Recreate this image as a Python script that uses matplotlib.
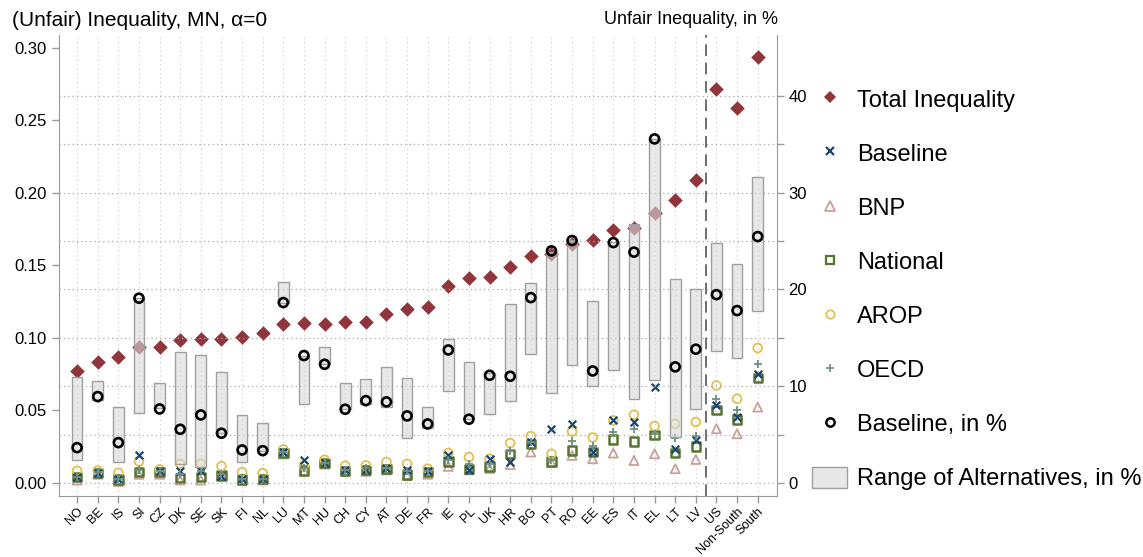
import matplotlib
matplotlib.use("Agg")
import matplotlib.pyplot as plt
from matplotlib.lines import Line2D
from matplotlib.patches import Patch
import numpy as np

plt.rcParams['font.family'] = ['Liberation Sans', 'DejaVu Sans']

# countries, sorted by total inequality; last three are US groups
countries = ["NO", "BE", "IS", "SI", "CZ", "DK", "SE", "SK", "FI", "NL", "LU",
             "MT", "HU", "CH", "CY", "AT", "DE", "FR", "IE", "PL", "UK", "HR",
             "BG", "PT", "RO", "EE", "ES", "IT", "EL", "LT", "LV",
             "US", "Non-South", "South"]

# left axis: inequality levels
total = [0.077, 0.0836, 0.0868, 0.0939, 0.0934, 0.0983, 0.0992, 0.0994, 0.1006,
         0.1036, 0.1095, 0.1102, 0.1095, 0.1109, 0.1107, 0.1167, 0.1197, 0.1215,
         0.136, 0.1416, 0.1422, 0.1489, 0.1564, 0.1581, 0.165, 0.1677, 0.1746,
         0.1757, 0.1861, 0.1953, 0.2086, 0.2712, 0.2585, 0.2937]
baseline = [0.004, 0.007, 0.003, 0.019, 0.008, 0.008, 0.008, 0.005, 0.003, 0.003,
            0.021, 0.0155, 0.014, 0.009, 0.009, 0.010, 0.0086, 0.008, 0.019,
            0.009, 0.0167, 0.0144, 0.028, 0.0374, 0.0408, 0.021, 0.0435, 0.042,
            0.066, 0.0236, 0.0293, 0.0534, 0.0454, 0.0753]
bnp = [0.002, 0.006, 0.001, 0.006, 0.006, 0.002, 0.002, 0.005, 0.002, 0.002,
       0.020, 0.008, 0.013, 0.008, 0.008, 0.009, 0.005, 0.006, 0.0114, 0.009,
       0.010, 0.0126, 0.0213, 0.014, 0.019, 0.0167, 0.0206, 0.0155, 0.0201,
       0.0098, 0.0162, 0.0374, 0.0339, 0.0523]
national = [0.004, 0.007, 0.0024, 0.0075, 0.0075, 0.0036, 0.004, 0.0052, 0.0024,
            0.0028, 0.0206, 0.0086, 0.0137, 0.0081, 0.0091, 0.0098, 0.0058,
            0.0075, 0.0148, 0.0098, 0.0114, 0.0201, 0.027, 0.0148, 0.0224,
            0.0213, 0.030, 0.0286, 0.0332, 0.0208, 0.0252, 0.0505, 0.0438, 0.0723]
arop = [0.0083, 0.0085, 0.007, 0.0148, 0.0093, 0.0132, 0.0132, 0.0116, 0.0075,
        0.0068, 0.0231, 0.012, 0.016, 0.0118, 0.012, 0.0144, 0.0132, 0.0098,
        0.0206, 0.0178, 0.0167, 0.0275, 0.0323, 0.0201, 0.0355, 0.0314, 0.0431,
        0.047, 0.0392, 0.0408, 0.042, 0.0672, 0.058, 0.093]
oecd = [0.004, 0.0075, 0.003, 0.009, 0.008, 0.006, 0.008, 0.006, 0.003, 0.003,
        0.021, 0.010, 0.014, 0.009, 0.010, 0.010, 0.008, 0.008, 0.016, 0.013,
        0.013, 0.022, 0.028, 0.016, 0.0286, 0.0252, 0.035, 0.0374, 0.034,
        0.0312, 0.0323, 0.058, 0.0505, 0.0817]

# right axis: unfair share in %
baseline_pct = [3.65, 8.93, 4.17, 19.1, 7.65, 5.55, 7.03, 5.14, 3.41, 3.34, 18.65,
                13.17, 12.27, 7.62, 8.51, 8.38, 6.93, 6.10, 13.75, 6.59, 11.13,
                11.03, 19.16, 23.99, 25.06, 11.58, 24.85, 23.86, 35.57, 12.0,
                13.83, 19.47, 17.82, 25.47]
range_lo = [2.35, 8.55, 2.14, 7.27, 7.75, 1.93, 1.65, 5.14, 2.2, 3.34, 18.65,
            8.14, 12.27, 7.62, 8.14, 7.86, 4.62, 5.65, 9.55, 6.59, 7.14, 8.51,
            13.34, 9.28, 12.17, 10.03, 11.65, 8.65, 10.65, 4.79, 7.62,
            13.68, 12.96, 17.79]
range_hi = [10.93, 10.52, 7.89, 19.1, 10.31, 13.51, 13.2, 11.48, 7.03, 6.17,
            20.82, 13.17, 14.03, 10.31, 10.72, 11.96, 10.83, 7.86, 14.92, 12.55,
            11.34, 18.54, 20.71, 23.92, 25.13, 18.85, 24.96, 26.75, 35.6, 21.06,
            20.06, 24.82, 22.65, 31.68]

c_total = "#90353b"
c_base = "#1a476f"
c_bnp = "#c9a09c"
c_nat = "#55752f"
c_arop = "#e2c04f"
c_oecd = "#6e8e84"
c_axis = "#999999"

x = np.arange(len(countries))

fig = plt.figure(figsize=(11.43, 5.57), dpi=100)
ax = fig.add_axes([0.0514, 0.1095, 0.6281, 0.8275])
ax2 = ax.twinx()

# grid lines
for xi in x:
    ax.axvline(xi, color="#c8c8c8", lw=0.8, ls=(0, (1, 3)), zorder=0)
for yv in range(0, 45, 5):
    ax2.axhline(yv, color="#aaaaaa", lw=0.9, ls=(0, (1, 2.5)), zorder=0)

ax.scatter(x, total, marker="D", s=55, color=c_total, zorder=3, linewidths=0)
ax.scatter(x, bnp, marker="^", s=42, facecolors="none", edgecolors=c_bnp,
           linewidths=1.3, zorder=3)
ax.scatter(x, national, marker="s", s=36, facecolors="none", edgecolors=c_nat,
           linewidths=1.8, zorder=4)
ax.scatter(x, arop, marker="o", s=40, facecolors="none", edgecolors=c_arop,
           linewidths=1.3, zorder=4)
ax.scatter(x, baseline, marker="x", s=30, color=c_base, linewidths=1.6, zorder=5)
ax.scatter(x, oecd, marker="+", s=40, color=c_oecd, linewidths=1.3, zorder=5)

# range of alternatives and baseline share
lo = np.array(range_lo)
hi = np.array(range_hi)
ax2.bar(x, hi - lo, bottom=lo, width=0.52, color=(0.85, 0.85, 0.85, 0.6),
        edgecolor="#a0a0a0", linewidth=1.0, zorder=2)
ax2.scatter(x, baseline_pct, marker="o", s=42, facecolors="none",
            edgecolors="black", linewidths=1.9, zorder=3)

ax.axvline(30.5, color="#555555", lw=1.2, ls=(0, (7, 4)), zorder=1)

ax.set_xlim(-0.89, 33.92)
ax.set_ylim(-0.009, 0.3087)
ax2.set_ylim(-1.35, 46.3)

ax.set_yticks(np.arange(0, 0.301, 0.05))
ax.set_yticklabels(["%.2f" % v for v in np.arange(0, 0.301, 0.05)])
ax2.set_yticks(range(0, 45, 5))
ax2.set_yticklabels([str(v) if v % 10 == 0 else "" for v in range(0, 45, 5)])
ax.set_xticks(x)
ax.set_xticklabels(countries, rotation=45, ha="right", rotation_mode="anchor",
                   fontsize=9)

for a in (ax, ax2):
    for s in a.spines.values():
        s.set_color(c_axis)
    a.spines["top"].set_visible(False)
    a.tick_params(colors=c_axis, labelcolor="black", length=5, width=1)
ax.spines["right"].set_visible(False)
ax2.spines["left"].set_visible(False)
ax2.spines["bottom"].set_visible(False)
ax.tick_params(axis="y", labelsize=12)
ax2.tick_params(axis="y", labelsize=12)
ax.tick_params(axis="x", pad=2)
ax.set_zorder(ax2.get_zorder() - 1)
ax.patch.set_visible(False)

fig.text(12 / 1143, 1 - 20 / 557, "(Unfair) Inequality, MN, \u03b1=0",
         fontsize=15, va="center", ha="left")
fig.text(778 / 1143, 1 - 20 / 557, "Unfair Inequality, in %",
         fontsize=13, va="center", ha="right")

handles = [
    Line2D([], [], ls="none", marker="D", ms=6.5, color=c_total, mew=0),
    Line2D([], [], ls="none", marker="x", ms=5.5, color=c_base, mew=1.6),
    Line2D([], [], ls="none", marker="^", ms=7, mfc="none", mec=c_bnp, mew=1.3),
    Line2D([], [], ls="none", marker="s", ms=5.5, mfc="none", mec=c_nat, mew=1.6),
    Line2D([], [], ls="none", marker="o", ms=6, mfc="none", mec=c_arop, mew=1.3),
    Line2D([], [], ls="none", marker="+", ms=6, color=c_oecd, mew=1.2),
    Line2D([], [], ls="none", marker="o", ms=6, mfc="none", mec="black", mew=1.8),
    Patch(facecolor="#e8e8e8", edgecolor="#a0a0a0", linewidth=1.0),
]
labels = ["Total Inequality", "Baseline", "BNP", "National", "AROP", "OECD",
          "Baseline, in %", "Range of Alternatives, in %"]
fig.legend(handles, labels, loc="upper left",
           bbox_to_anchor=(812 / 1143, 1 - 88 / 557), frameon=False,
           fontsize=17, handlelength=1.5, handleheight=1.0,
           handletextpad=0.41, labelspacing=1.29, borderpad=0,
           borderaxespad=0)

fig.savefig("out.png", dpi=100)
